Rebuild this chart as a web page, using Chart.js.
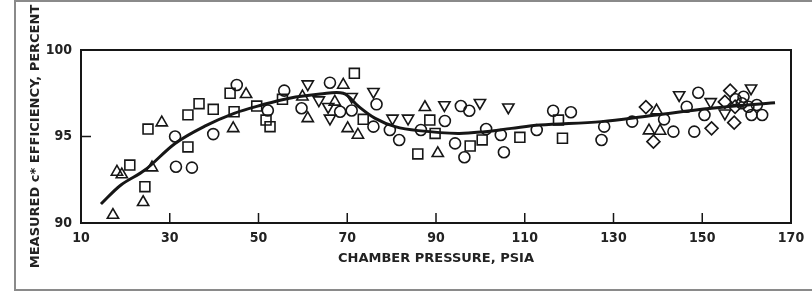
<!DOCTYPE html>
<html>
<head>
<meta charset="utf-8">
<script src="https://cdn.jsdelivr.net/npm/chart.js@4.4.1/dist/chart.umd.min.js"></script>
<style>
  body { margin: 0; background: #fff; }
  #caixa { position: relative; width: 812px; height: 292px; }
</style>
</head>
<body>
<div id="caixa"><canvas id="grafico" width="812" height="292"></canvas></div>
<script>
// eixos
const xTicks = [10, 30, 50, 70, 90, 110, 130, 150, 170]
const yTicks = [90, 95, 100]

// pontos, [pressao, eficiencia]
const circulos = [[31.2,95.0],[31.4,93.25],[35.0,93.2],[39.8,95.14],[45.1,97.98],[52.1,96.5],[55.8,97.65],[59.7,96.63],[66.1,98.11],[68.4,96.43],[71.0,96.5],[76.6,96.86],[75.9,95.57],[79.6,95.38],[81.7,94.8],[86.6,95.38],[92.0,95.9],[94.3,94.6],[95.6,96.76],[97.5,96.49],[96.4,93.8],[101.3,95.43],[104.6,95.09],[105.3,94.09],[112.7,95.38],[116.4,96.49],[120.4,96.4],[127.9,95.57],[127.3,94.8],[134.2,95.86],[141.4,95.99],[143.5,95.28],[146.5,96.72],[149.1,97.53],[148.2,95.28],[150.5,96.24],[157.5,97.15],[159.3,97.3],[158.9,96.92],[160.4,96.72],[161.1,96.24],[163.5,96.24],[162.3,96.82]]
const quadrados = [[21.0,93.35],[24.4,92.1],[25.1,95.43],[34.1,94.4],[34.1,96.25],[36.6,96.9],[39.8,96.57],[43.6,97.5],[44.5,96.43],[49.6,96.76],[51.7,95.95],[52.6,95.57],[55.4,97.15],[71.6,98.65],[73.6,95.99],[85.9,93.99],[88.6,95.95],[89.8,95.18],[97.7,94.45],[100.4,94.8],[108.9,94.95],[117.6,95.95],[118.5,94.9]]
const triangulos = [[17.2,90.46],[18.1,92.95],[19.2,92.8],[24.0,91.2],[26.0,93.2],[28.2,95.8],[44.3,95.47],[47.2,97.44],[59.9,97.3],[61.1,96.05],[67.2,97.0],[69.1,97.98],[70.1,95.47],[72.4,95.09],[87.5,96.69],[90.4,94.03],[139.7,96.5],[138.0,95.34],[140.5,95.32]]
const invertidos = [[61.1,98.03],[63.6,97.1],[65.7,96.72],[66.1,96.05],[71.0,97.3],[75.9,97.59],[80.2,96.05],[83.7,96.05],[91.9,96.82],[99.9,96.95],[106.3,96.69],[144.8,97.4],[151.9,97.0],[155.1,96.34],[161.0,97.79]]
const losangos = [[137.3,96.7],[139.0,94.7],[152.1,95.47],[156.3,97.65],[155.1,97.0],[157.4,96.72],[157.2,95.8]]

// curva ajustada
const curvaX = [14.5, 19, 24.4, 31.2, 37.9, 44.5, 50.7, 56.7, 63.9, 69.1, 72.5, 76.3, 80.8, 86, 95, 101, 107, 113.4, 127.3, 138.2, 152.1, 166.4]
const curvaY = [91.1, 92.2, 93.06, 94.6, 95.6, 96.34, 96.82, 97.2, 97.45, 97.5, 96.75, 96.05, 95.57, 95.34, 95.18, 95.28, 95.47, 95.66, 95.86, 96.2, 96.63, 96.95]

const preto = '#161616'
const fonte = "'DejaVu Sans', sans-serif"
const fonteNum = "'DejaVu Sans Condensed', 'DejaVu Sans', sans-serif"

function pontos(lista) {
    return lista.map(p => ({ x: p[0], y: p[1] }))
}

function serie(nome, lista, estilo, raio, rot) {
    return {
        label: nome,
        type: 'scatter',
        data: pontos(lista),
        pointStyle: estilo,
        pointRadius: raio,
        pointRotation: rot || 0,
        pointBorderColor: preto,
        pointBackgroundColor: 'rgba(0,0,0,0)',
        pointBorderWidth: 1.6,
        showLine: false
    }
}

// caixa do grafico e tracinhos para dentro
const moldura = {
    id: 'moldura',
    afterDraw(chart) {
        const ctx = chart.ctx
        const a = chart.chartArea
        const sx = chart.scales.x
        const sy = chart.scales.y
        ctx.save()
        ctx.strokeStyle = preto
        ctx.lineWidth = 2
        ctx.strokeRect(a.left, a.top, a.right - a.left, a.bottom - a.top)
        ctx.lineWidth = 1.5
        ctx.beginPath()
        sx.ticks.forEach(t => {
            if (t.value == sx.min || t.value == sx.max) return
            let px = sx.getPixelForValue(t.value)
            ctx.moveTo(px, a.bottom)
            ctx.lineTo(px, a.bottom - 10)
        })
        sy.ticks.forEach(t => {
            if (t.value == sy.min || t.value == sy.max) return
            let py = sy.getPixelForValue(t.value)
            ctx.moveTo(a.left, py)
            ctx.lineTo(a.left + 10, py)
        })
        ctx.stroke()
        // borda cinza da figura escaneada (esquerda, topo, baixo)
        ctx.strokeStyle = '#8a8a8a'
        ctx.lineWidth = 2
        ctx.beginPath()
        ctx.moveTo(812, 1)
        ctx.lineTo(15, 1)
        ctx.lineTo(15, 290)
        ctx.lineTo(812, 290)
        ctx.stroke()
        ctx.restore()
    }
}

var ctx = document.getElementById('grafico')
var chartGraph = new Chart(ctx, {
    type: 'scatter',
    data: {
        datasets: [
            {
                label: 'curva',
                type: 'line',
                data: curvaX.map((x, i) => ({ x: x, y: curvaY[i] })),
                borderColor: preto,
                borderWidth: 3,
                pointRadius: 0,
                tension: 0.35,
                fill: false
            },
            serie('circulos', circulos, 'circle', 5.5),
            serie('quadrados', quadrados, 'rect', 7),
            serie('triangulos', triangulos, 'triangle', 6.5),
            serie('invertidos', invertidos, 'triangle', 6.5, 180),
            serie('losangos', losangos, 'rectRot', 6.5)
        ]
    },
    options: {
        responsive: false,
        animation: false,
        layout: { padding: { left: 28, right: 21, top: 50, bottom: 26 } },
        plugins: {
            legend: { display: false },
            tooltip: { enabled: false }
        },
        scales: {
            x: {
                type: 'linear',
                min: 10,
                max: 170,
                afterBuildTicks: s => { s.ticks = xTicks.map(v => ({ value: v })) },
                afterFit: s => { s.height = 43 },
                grid: { display: false, drawTicks: false },
                border: { display: false },
                ticks: { color: '#222', padding: 7, font: { family: fonteNum, size: 14, weight: 'bold' } },
                title: {
                    display: true,
                    text: 'CHAMBER PRESSURE, PSIA',
                    color: '#222',
                    padding: { top: 0, bottom: 0 },
                    font: { family: fonte, size: 13, weight: 'bold' }
                }
            },
            y: {
                type: 'linear',
                min: 90,
                max: 100,
                afterBuildTicks: s => { s.ticks = yTicks.map(v => ({ value: v })) },
                afterFit: s => { s.width = 53 },
                grid: { display: false, drawTicks: false },
                border: { display: false },
                ticks: { color: '#222', padding: 9, font: { family: fonteNum, size: 14, weight: 'bold' } },
                title: {
                    display: true,
                    text: 'MEASURED c* EFFICIENCY, PERCENT',
                    color: '#222',
                    padding: { top: 0, bottom: 0 },
                    font: { family: fonte, size: 13, weight: 'bold' }
                }
            }
        }
    },
    plugins: [moldura]
})
</script>
</body>
</html>
